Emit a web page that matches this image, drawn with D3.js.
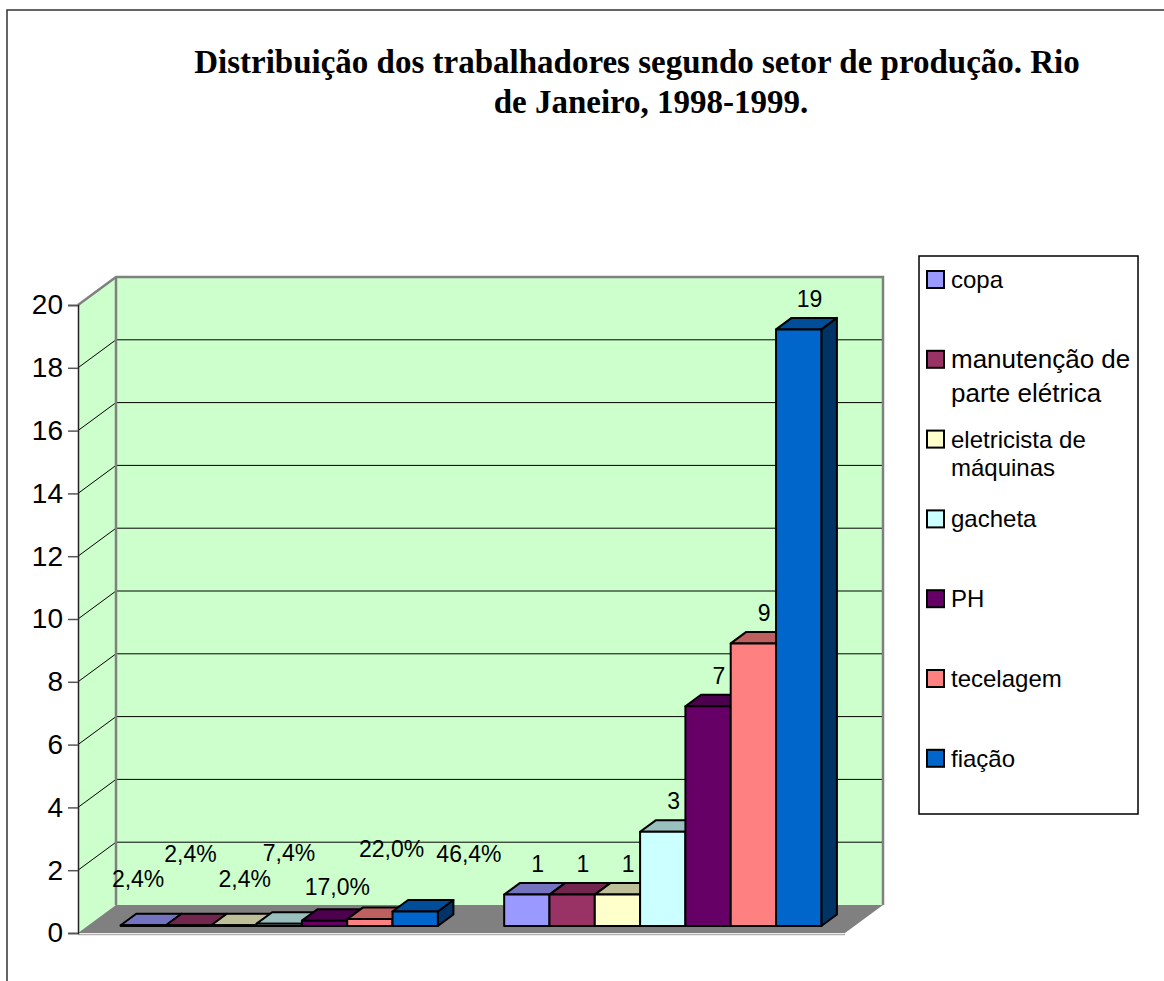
<!DOCTYPE html>
<html>
<head>
<meta charset="utf-8">
<script src="https://cdn.jsdelivr.net/npm/d3@7"></script>
<style>
  body { margin: 0; background: #fff; }
  svg { display: block; }
</style>
</head>
<body>
<svg width="1164" height="981"></svg>
<script>
// data
let groups = ["percentual", "número"];
let sectors = ["copa", "manutenção de parte elétrica", "eletricista de máquinas", "gacheta", "PH", "tecelagem", "fiação"];
let percentValues = [0.024, 0.024, 0.024, 0.074, 0.17, 0.22, 0.464];
let countValues = [1, 1, 1, 3, 7, 9, 19];
let legendLines = [["copa"], ["manutenção de", "parte elétrica"], ["eletricista de", "máquinas"], ["gacheta"], ["PH"], ["tecelagem"], ["fiação"]];
let titleLines = ["Distribuição dos trabalhadores segundo setor de produção. Rio", "de Janeiro, 1998-1999."];
let colors = ["#9999FF", "#993366", "#FFFFCC", "#CCFFFF", "#660066", "#FF8080", "#0066CC"];

// label nudges for the crowded first group (layout only)
let pctLabelNudge = [[-13, -16], [-6, -41], [3, -16], [2, -40], [5, -3], [14, -40], [46, -27]];

let svg = d3.select("svg"),
    plot = {left: 78, right: 845, top: 305, bottom: 933},
    depth = {dx: 38, dy: -28},
    barFront = 0.25, barDepth = 0.41;

let y = d3.scaleLinear().domain([0, 20]).range([plot.bottom, plot.top]);

let x0 = d3.scaleBand()
    .domain(groups)
    .range([plot.left, plot.right])
    .paddingInner(0.173)
    .paddingOuter(0.0865);

let x1 = d3.scaleBand()
    .domain(sectors)
    .range([0, x0.bandwidth()]);

// outer chart border
svg.append("rect")
    .attr("x", 7).attr("y", 10)
    .attr("width", 1200).attr("height", 1000)
    .attr("fill", "none").attr("stroke", "#333").attr("stroke-width", 1.5);

// title
svg.selectAll(".title")
  .data(titleLines)
  .enter().append("text")
    .attr("class", "title")
    .attr("x", function(d, i) { return i === 0 ? 637 : 651; })
    .attr("y", function(d, i) { return 73 + i * 40; })
    .attr("text-anchor", "middle")
    .style("font-family", "'Liberation Serif', 'Times New Roman', serif")
    .style("font-weight", "bold")
    .style("font-size", "33px")
    .text(function(d) { return d; });

// walls
let g = svg.append("g");
let bx = plot.left + depth.dx, bRight = plot.right + depth.dx;

g.append("polygon")
    .attr("points", [[plot.left, y(0)], [plot.left, y(20)], [bx, y(20) + depth.dy], [bx, y(0) + depth.dy]].join(" "))
    .attr("fill", "#CCFFCC");

g.append("rect")
    .attr("x", bx).attr("y", y(20) + depth.dy)
    .attr("width", bRight - bx).attr("height", y(0) - y(20))
    .attr("fill", "#CCFFCC");

// gridlines
let gridVals = d3.range(2, 20, 2);
g.selectAll(".gback").data(gridVals).enter().append("line")
    .attr("x1", bx).attr("x2", bRight)
    .attr("y1", function(d) { return y(d) + depth.dy; })
    .attr("y2", function(d) { return y(d) + depth.dy; })
    .attr("stroke", "#000").attr("stroke-width", 1);
g.selectAll(".gside").data(gridVals).enter().append("line")
    .attr("x1", plot.left).attr("x2", bx)
    .attr("y1", function(d) { return y(d); })
    .attr("y2", function(d) { return y(d) + depth.dy; })
    .attr("stroke", "#000").attr("stroke-width", 1);

// wall borders
g.append("path")
    .attr("d", "M" + plot.left + "," + y(20) + "L" + bx + "," + (y(20) + depth.dy) +
               "L" + bRight + "," + (y(20) + depth.dy) + "L" + bRight + "," + (y(0) + depth.dy))
    .attr("fill", "none").attr("stroke", "#808080").attr("stroke-width", 2.5);
g.append("line")
    .attr("x1", bx).attr("x2", bx)
    .attr("y1", y(20) + depth.dy).attr("y2", y(0) + depth.dy)
    .attr("stroke", "#808080").attr("stroke-width", 2.5);

// floor
g.append("polygon")
    .attr("points", [[plot.left, y(0)], [plot.right, y(0)], [bRight, y(0) + depth.dy], [bx, y(0) + depth.dy]].join(" "))
    .attr("fill", "#808080");
g.append("line")
    .attr("x1", plot.left).attr("x2", plot.right)
    .attr("y1", y(0) + 1.5).attr("y2", y(0) + 1.5)
    .attr("stroke", "#b0b0b0").attr("stroke-width", 1.5);

// axis
let yAxis = d3.axisLeft(y).ticks(10).tickSize(10).tickPadding(5);
let yGroup = svg.append("g")
    .attr("transform", "translate(" + plot.left + ",0)")
    .call(yAxis);
yGroup.select(".domain").attr("stroke", "#222").attr("stroke-width", 1.5);
yGroup.selectAll(".tick line").attr("stroke", "#555").attr("stroke-width", 1.5);
yGroup.selectAll(".tick text")
    .attr("fill", "#000")
    .style("font-family", "'Liberation Sans', Arial, sans-serif")
    .style("font-size", "28px");

// bars
let fdx = depth.dx * barFront, fdy = depth.dy * barFront,
    ddx = depth.dx * barDepth, ddy = depth.dy * barDepth;

let series = [percentValues, countValues];
let bars = [];
series.forEach(function(vals, gi) {
  vals.forEach(function(v, i) {
    bars.push({group: groups[gi], gi: gi, i: i, sector: sectors[i], value: v});
  });
});

let barG = svg.append("g")
    .attr("stroke", "#000").attr("stroke-width", 2).attr("stroke-linejoin", "round");

bars.forEach(function(d) {
  let w = x1.bandwidth(),
      xl = x0(d.group) + x1(d.sector) + fdx,
      xr = xl + w,
      yb = y(0) + fdy,
      yt = y(d.value) + fdy,
      c = d3.color(colors[d.i]);
  let top = d3.rgb(c.r * 0.75, c.g * 0.75, c.b * 0.75),
      side = d3.rgb(c.r * 0.5, c.g * 0.5, c.b * 0.5);
  barG.append("polygon")
      .attr("points", [[xr, yt], [xr + ddx, yt + ddy], [xr + ddx, yb + ddy], [xr, yb]].join(" "))
      .attr("fill", side);
  barG.append("polygon")
      .attr("points", [[xl, yt], [xl + ddx, yt + ddy], [xr + ddx, yt + ddy], [xr, yt]].join(" "))
      .attr("fill", top);
  barG.append("rect")
      .attr("x", xl).attr("y", yt)
      .attr("width", w).attr("height", yb - yt)
      .attr("fill", c);
});

// data labels
let fmtPct = function(v) { return d3.format(".1%")(v).replace(".", ","); };
svg.append("g").selectAll("text")
  .data(bars)
  .enter().append("text")
    .attr("x", function(d) {
      let cx = x0(d.group) + x1(d.sector) + x1.bandwidth() / 2 + fdx + ddx / 2;
      return cx + (d.gi === 0 ? pctLabelNudge[d.i][0] : 3);
    })
    .attr("y", function(d) {
      let cy = y(d.value) + fdy + ddy - 19;
      return cy + (d.gi === 0 ? pctLabelNudge[d.i][1] : 0);
    })
    .attr("dy", "0.35em")
    .attr("text-anchor", "middle")
    .style("font-family", "'Liberation Sans', Arial, sans-serif")
    .style("font-size", "23px")
    .text(function(d) { return d.gi === 0 ? fmtPct(d.value) : d.value; });

// legend
let legend = svg.append("g");
legend.append("rect")
    .attr("x", 919).attr("y", 256)
    .attr("width", 219).attr("height", 558)
    .attr("fill", "#fff").attr("stroke", "#000").attr("stroke-width", 1.5);

let legendSize = [24, 26, 24, 24, 24, 24, 24],
    legendLead = [0, 34, 28, 0, 0, 0, 0];

let items = legend.selectAll(".item")
  .data(sectors)
  .enter().append("g")
    .attr("class", "item")
    .attr("transform", function(d, i) { return "translate(927," + (288 + i * 79.8) + ")"; });

items.append("rect")
    .attr("x", 0).attr("y", -17)
    .attr("width", 17).attr("height", 17)
    .attr("fill", function(d, i) { return colors[i]; })
    .attr("stroke", "#000").attr("stroke-width", 2);

items.each(function(d, i) {
  let t = d3.select(this).append("text")
      .attr("x", 24)
      .style("font-family", "'Liberation Sans', Arial, sans-serif")
      .style("font-size", legendSize[i] + "px");
  legendLines[i].forEach(function(line, j) {
    t.append("tspan")
        .attr("x", 24)
        .attr("y", j * legendLead[i])
        .text(line);
  });
});
</script>
</body>
</html>
